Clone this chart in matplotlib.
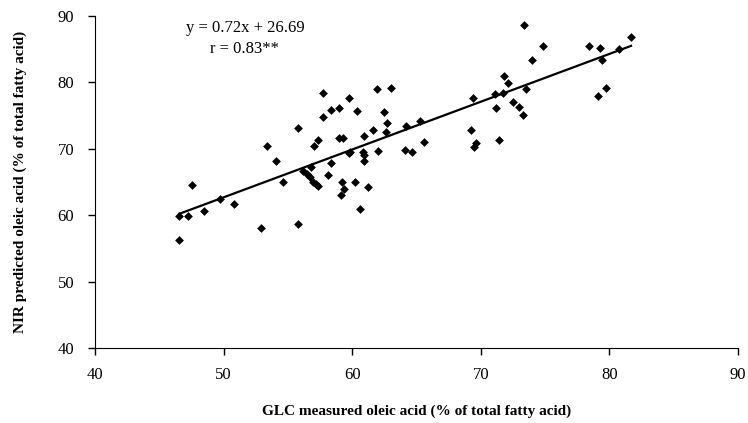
import numpy as np
import matplotlib
matplotlib.use("Agg")
import matplotlib.pyplot as plt

# GLC measured vs NIR predicted oleic acid (% of total fatty acid)
glc = [46.56, 47.23, 47.57, 48.45, 49.75, 50.81, 46.56, 52.93, 55.81, 53.35,
       54.10, 54.60, 55.81, 56.20, 56.46, 56.72, 56.77, 56.97, 57.18, 57.36,
       57.03, 57.36, 57.75, 57.75, 58.09, 58.33, 58.33, 59.00, 58.97, 59.26,
       59.72, 59.72, 59.83, 59.20, 59.39, 59.13, 60.37, 60.24, 60.60, 60.86,
       60.94, 60.94, 60.94, 61.25, 61.62, 61.93, 62.00, 62.50, 62.73, 62.65,
       62.99, 64.20, 64.10, 64.62, 65.29, 65.58, 69.20, 69.37, 69.60, 69.50,
       71.20, 71.13, 71.70, 71.39, 72.14, 73.33, 74.80, 74.00, 71.80, 73.50,
       72.53, 72.95, 73.28, 78.40, 79.30, 79.40, 80.77, 81.68, 79.14, 79.70]
nir = [59.9, 59.9, 64.5, 60.6, 62.5, 61.7, 56.2, 58.0, 58.6, 70.4,
       68.2, 65.05, 73.1, 66.6, 66.2, 65.8, 67.3, 65.05, 64.7, 64.45,
       70.4, 71.3, 78.35, 74.8, 66.1, 67.9, 75.85, 76.2, 71.6, 71.7,
       77.65, 69.4, 69.55, 64.95, 63.9, 63.0, 75.7, 64.95, 60.9, 69.55,
       69.1, 68.1, 72.0, 64.3, 72.8, 79.0, 69.65, 75.6, 73.9, 72.6,
       79.15, 73.5, 69.8, 69.5, 74.2, 71.0, 72.8, 77.65, 70.9, 70.3,
       76.1, 78.25, 78.35, 71.4, 79.85, 88.6, 85.5, 83.4, 81.0, 79.0,
       77.1, 76.3, 75.1, 85.5, 85.2, 83.4, 85.1, 86.8, 77.9, 79.15]

slope = 0.72
intercept = 26.69
eq_text = "y = 0.72x + 26.69"
r_text = "r = 0.83**"

plt.rcParams['font.family'] = ['Liberation Serif', 'DejaVu Serif']

fig = plt.figure(figsize=(7.48, 4.23), dpi=100)
ax = fig.add_axes([95 / 748, 1 - 348 / 423, (738 - 95) / 748, (348 - 16) / 423])

ax.scatter(glc, nir, marker='D', s=20, color='black', zorder=3, linewidths=0)

xs = np.array([min(glc), max(glc)])
ax.plot(xs, slope * xs + intercept, color='black', lw=1.6)

ax.set_xlim(40, 90)
ax.set_ylim(40, 90)
ax.set_xticks(range(40, 91, 10))
ax.set_yticks(range(40, 91, 10))
ax.spines['top'].set_visible(False)
ax.spines['right'].set_visible(False)
ax.tick_params(direction='out', length=5, width=1, labelsize=12)
ax.tick_params(axis='y', pad=10)
ax.tick_params(axis='x', pad=9)

ax.set_xlabel("GLC measured oleic acid (% of total fatty acid)",
              fontsize=11, fontweight='bold', labelpad=15)
ax.set_ylabel("NIR predicted oleic acid (% of total fatty acid)",
              fontsize=11, fontweight='bold', labelpad=22)

ax.text(0.233, 0.963, eq_text, transform=ax.transAxes, ha='center', va='center', fontsize=12)
ax.text(0.233, 0.9, r_text, transform=ax.transAxes, ha='center', va='center', fontsize=12)

fig.savefig("out.png", dpi=100)
